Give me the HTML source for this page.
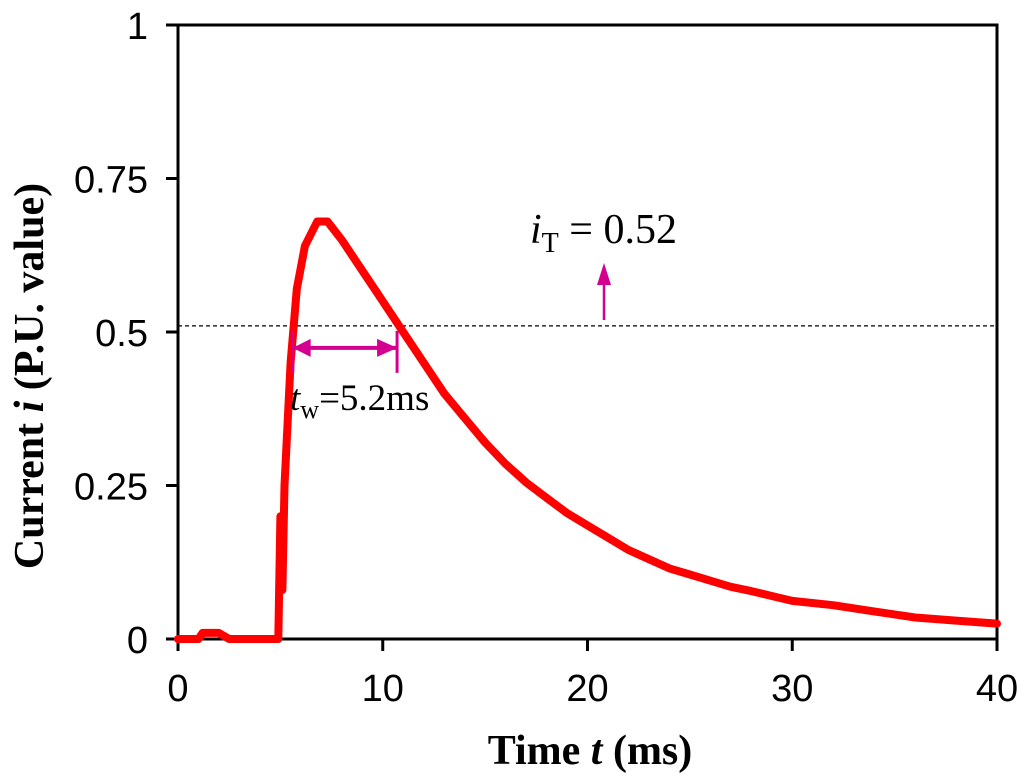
<!DOCTYPE html>
<html><head><meta charset="utf-8"><style>
body{margin:0;background:#fff}
svg{display:block}
.tk{font-family:"Liberation Sans",sans-serif;font-size:38px;fill:#000}
.ser{font-family:"Liberation Serif",serif;fill:#000}
</style></head><body>
<svg id="chart" width="1024" height="782" viewBox="0 0 1024 782" xmlns="http://www.w3.org/2000/svg">
<g id="g"></g>
</svg>
<script>
const xTicks=[0,10,20,30,40];
const yTicks=[0,0.25,0.5,0.75,1];
const yTickLabels=["0","0.25","0.5","0.75","1"];
const times=[0,1,1.2,2,2.5,4.9,5.0,5.1,5.2,5.5,5.8,6.2,6.8,7.3,8,9,10,11,12,13,14,15,16,17,18,19,20,21,22,23,24,25,26,27,28,29,30,32,34,36,38,40];
const currents=[0,0,0.01,0.01,0,0,0.2,0.08,0.25,0.45,0.57,0.64,0.68,0.68,0.65,0.6,0.55,0.5,0.45,0.4,0.36,0.32,0.285,0.255,0.23,0.205,0.185,0.165,0.145,0.13,0.115,0.105,0.095,0.085,0.078,0.07,0.062,0.055,0.045,0.035,0.03,0.025];
const threshold=0.51;
const twStart=5.6, twEnd=10.7;

const X0=178,X1=997,Y0=639,Y1=25;
const sx=t=>X0+(t-0)/(40-0)*(X1-X0);
const sy=v=>Y0-(v-0)/(1-0)*(Y0-Y1);
const NS="http://www.w3.org/2000/svg";
const g=document.getElementById('g');
function mk(tag,attrs,parent){const e=document.createElementNS(NS,tag);for(const k in attrs)e.setAttribute(k,attrs[k]);(parent||g).appendChild(e);return e;}

let e=mk('rect',{x:X0,y:Y1,width:X1-X0,height:Y0-Y1,fill:'none',stroke:'#000','stroke-width':3});



xTicks.forEach(t=>{
 let l=mk('line',{x1:sx(t),x2:sx(t),y1:Y0,y2:Y0+12,stroke:'#000','stroke-width':3});
 
 
 let tx=mk('text',{x:sx(t),y:Y0+62,'text-anchor':'middle',class:'tk'});tx.textContent=t;
 
 
});
yTicks.forEach((v,i)=>{
 let l=mk('line',{x1:X0-12,x2:X0,y1:sy(v),y2:sy(v),stroke:'#000','stroke-width':3});
 
 
 let tx=mk('text',{x:X0-30,y:sy(v)+14,'text-anchor':'end',class:'tk'});tx.textContent=yTickLabels[i];
 
 
});

e=mk('line',{x1:X0,x2:X1,y1:sy(threshold),y2:sy(threshold),stroke:'#000','stroke-width':1.3,'stroke-dasharray':'4,3'});



let d=times.map((t,i)=>(i?'L':'M')+sx(t).toFixed(1)+','+sy(currents[i]).toFixed(1)).join(' ');
e=mk('path',{d:d,fill:'none',stroke:'#ff0000','stroke-width':8,'stroke-linejoin':'round','stroke-linecap':'round'});



const mg='#d4008f';
const ay=sy(threshold)+22, xa=sx(twStart), xb=sx(twEnd);
e=mk('g',{});


mk('line',{x1:xa,x2:xa,y1:ay-17,y2:ay+25,stroke:mg,'stroke-width':3},e);
mk('line',{x1:xb,x2:xb,y1:ay-17,y2:ay+25,stroke:mg,'stroke-width':3},e);
mk('line',{x1:xa,x2:xb,y1:ay,y2:ay,stroke:mg,'stroke-width':4},e);
mk('polygon',{points:`${xa},${ay} ${xa+18},${ay-9} ${xa+18},${ay+9}`,fill:mg},e);
mk('polygon',{points:`${xb},${ay} ${xb-20},${ay-9} ${xb-20},${ay+9}`,fill:mg},e);

e=mk('text',{x:290,y:410,class:'ser','font-size':37});
e.innerHTML='<tspan font-style="italic">t</tspan><tspan font-size="26" dy="8">w</tspan><tspan dy="-8">=5.2ms</tspan>';



e=mk('g',{});


mk('line',{x1:604,x2:604,y1:320,y2:282,stroke:mg,'stroke-width':2.5},e);
mk('polygon',{points:'604,263 597,285 611,285',fill:mg},e);
e=mk('text',{x:530,y:243,class:'ser','font-size':42});
e.innerHTML='<tspan font-style="italic">i</tspan><tspan font-size="28" dy="9">T</tspan><tspan dy="-9"> = 0.52</tspan>';



e=mk('text',{x:590,y:764,'text-anchor':'middle',class:'ser','font-size':42,'font-weight':'bold'});
e.innerHTML='Time <tspan font-style="italic">t</tspan>  (ms)';


e=mk('text',{x:0,y:0,'text-anchor':'middle',class:'ser','font-size':42,'font-weight':'bold',transform:'translate(43,376) rotate(-90)'});
e.innerHTML='Current <tspan font-style="italic">i</tspan>  (P.U. value)';


</script>
</body></html>
